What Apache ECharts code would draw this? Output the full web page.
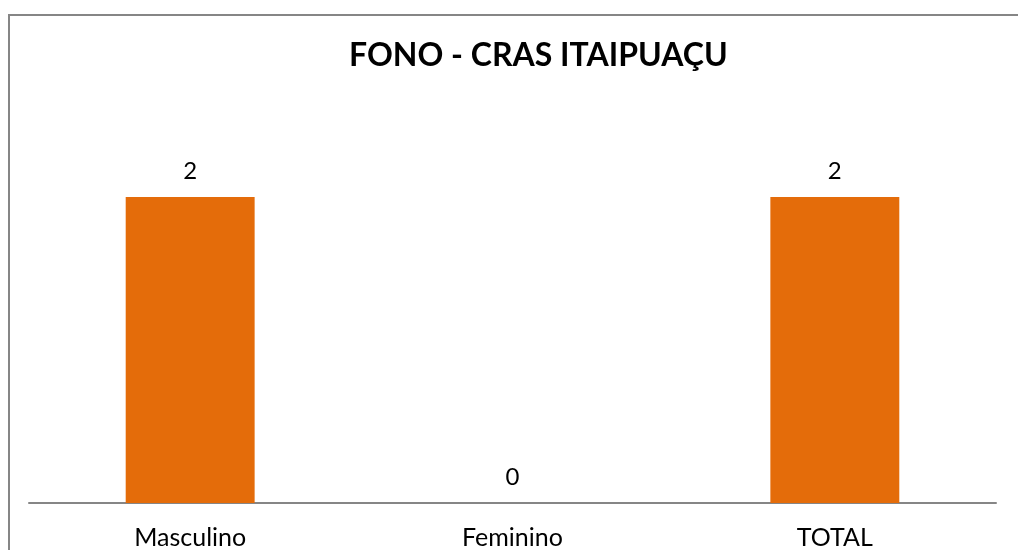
<!DOCTYPE html>
<html>
<head>
<meta charset="utf-8">
<script src="https://cdn.jsdelivr.net/npm/echarts@6/dist/echarts.min.js"></script>
<style>
html,body{margin:0;padding:0;background:#fff;}
#chart{width:1018px;height:550px;}
</style>
</head>
<body>
<div id="chart"></div>
<script>
var titleText = 'FONO - CRAS ITAIPUAÇU';
var categories = ['Masculino', 'Feminino', 'TOTAL'];
var values = [2, 0, 2];

var chart = echarts.init(document.getElementById('chart'));
chart.setOption({
  backgroundColor: '#ffffff',
  animation: false,
  title: {
    text: titleText,
    left: 344,
    top: 35,
    textStyle: { fontFamily: 'Lato', fontWeight: 'bold', fontSize: 32, color: '#000000' }
  },
  graphic: [{
    type: 'rect',
    shape: { x: 9, y: 15, width: 1030, height: 560 },
    style: { fill: 'none', stroke: '#868686', lineWidth: 2 },
    silent: true
  }],
  grid: { left: 29, right: 22, top: 197, bottom: 44 },
  xAxis: {
    type: 'category',
    data: categories,
    axisLine: { lineStyle: { color: '#868686', width: 2 } },
    axisTick: { show: false },
    axisLabel: { color: '#000000', fontFamily: 'Lato', fontSize: 25, margin: 22 }
  },
  yAxis: {
    type: 'value',
    min: 0,
    max: 2,
    show: false,
    splitLine: { show: false }
  },
  series: [{
    type: 'bar',
    data: values,
    barWidth: '40%',
    itemStyle: { color: '#E46C0A' },
    label: {
      show: true,
      position: 'top',
      distance: 14,
      color: '#000000',
      fontFamily: 'Lato',
      fontSize: 24
    }
  }]
});
</script>
</body>
</html>
